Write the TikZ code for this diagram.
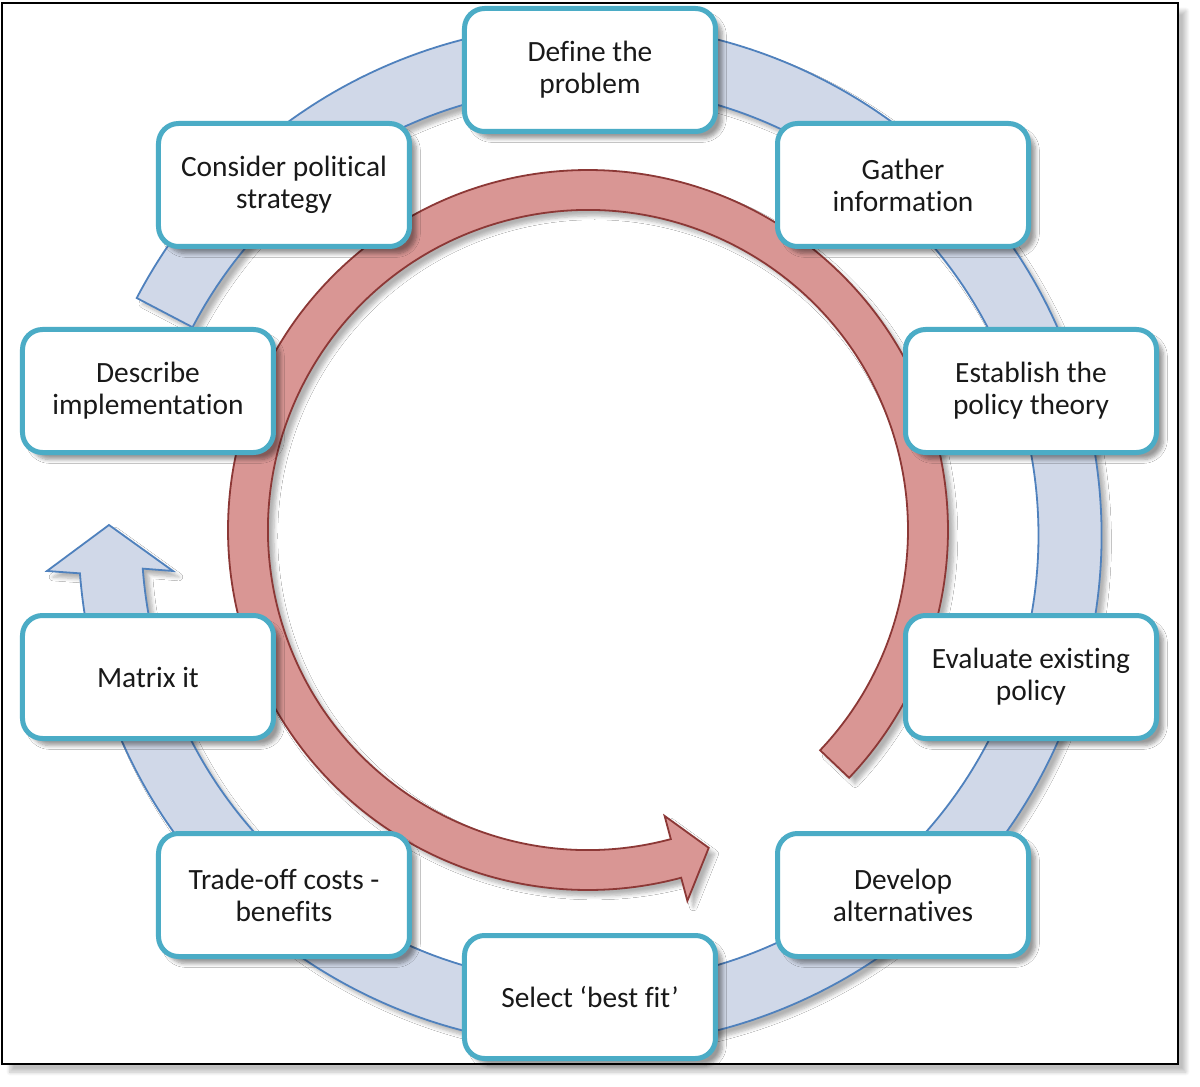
\documentclass[tikz,border=0pt]{standalone}
\usepackage{fontspec}
\setmainfont[Ligatures=NoCommon]{Carlito}
\usetikzlibrary{shadows.blur}

\definecolor{ringblue}{RGB}{208,216,232}
\definecolor{ringedge}{RGB}{79,129,189}
\definecolor{loopred}{RGB}{217,150,148}
\definecolor{loopedge}{RGB}{140,56,54}
\definecolor{boxedge}{RGB}{75,172,198}

\tikzset{
    stage/.style={draw=boxedge, line width=2.5pt, fill=white, rounded corners=10pt,
        minimum width=125.5pt, minimum height=61.5pt, align=center,
        font=\fontsize{14.7}{16}\selectfont, text=black!90,
        blur shadow={shadow xshift=3.5pt, shadow yshift=-3.5pt, shadow blur steps=6, shadow opacity=40}},
    softshadow/.style={blur shadow={shadow xshift=3pt, shadow yshift=-3pt, shadow blur steps=6, shadow opacity=30}},
}

\begin{document}
\begin{tikzpicture}[x=0.5pt, y=0.5pt]
        \useasboundingbox (-590,-552) rectangle (610,535);
        % frame
        \draw [line width=1.2pt, fill=white, blur shadow={shadow xshift=4pt, shadow yshift=-4pt, shadow blur steps=8, shadow opacity=25}] (-588,-529) rectangle (588,532);
        
        % outer ring, clockwise
        \draw [ringedge, line width=0.9pt, fill=ringblue, softshadow] (152.4:511.5) arc [start angle=152.4, end angle=-175.7, radius=511.5] -- (-543,-36) -- (-481,10) -- (-417,-36) -- (-175.7:448.5) arc [start angle=-175.7, end angle=152.4, radius=448.5] -- cycle;
        
        % inner loop, counter clockwise
        \begin{scope}[shift={(-2,5)}]
            \draw [loopedge, line width=0.9pt, fill=loopred, softshadow] (-43.5:360) arc [start angle=-43.5, end angle=285, radius=360] -- (285:384) -- (290.8:340) -- (285:296) -- (285:320) arc [start angle=285, end angle=-43.5, radius=320] -- cycle;
        \end{scope}
        
        % the ten steps
        \node [stage] (define) at (0,465) {Define the\\problem};
        \node [stage] (gather) at (313,350) {Gather\\information};
        \node [stage] (theory) at (441,144) {Establish the\\policy theory};
        \node [stage] (evaluate) at (441,-142) {Evaluate existing\\policy};
        \node [stage] (develop) at (313,-360) {Develop\\alternatives};
        \node [stage] (select) at (0,-462) {Select ‘best fit’};
        \node [stage] (tradeoff) at (-306,-360) {Trade-off costs -\\benefits};
        \node [stage] (matrix) at (-442,-142) {Matrix it};
        \node [stage] (describe) at (-442,144) {Describe\\implementation};
        \node [stage] (consider) at (-306,350) {Consider political\\strategy};
        
    \end{tikzpicture}
\end{document}
